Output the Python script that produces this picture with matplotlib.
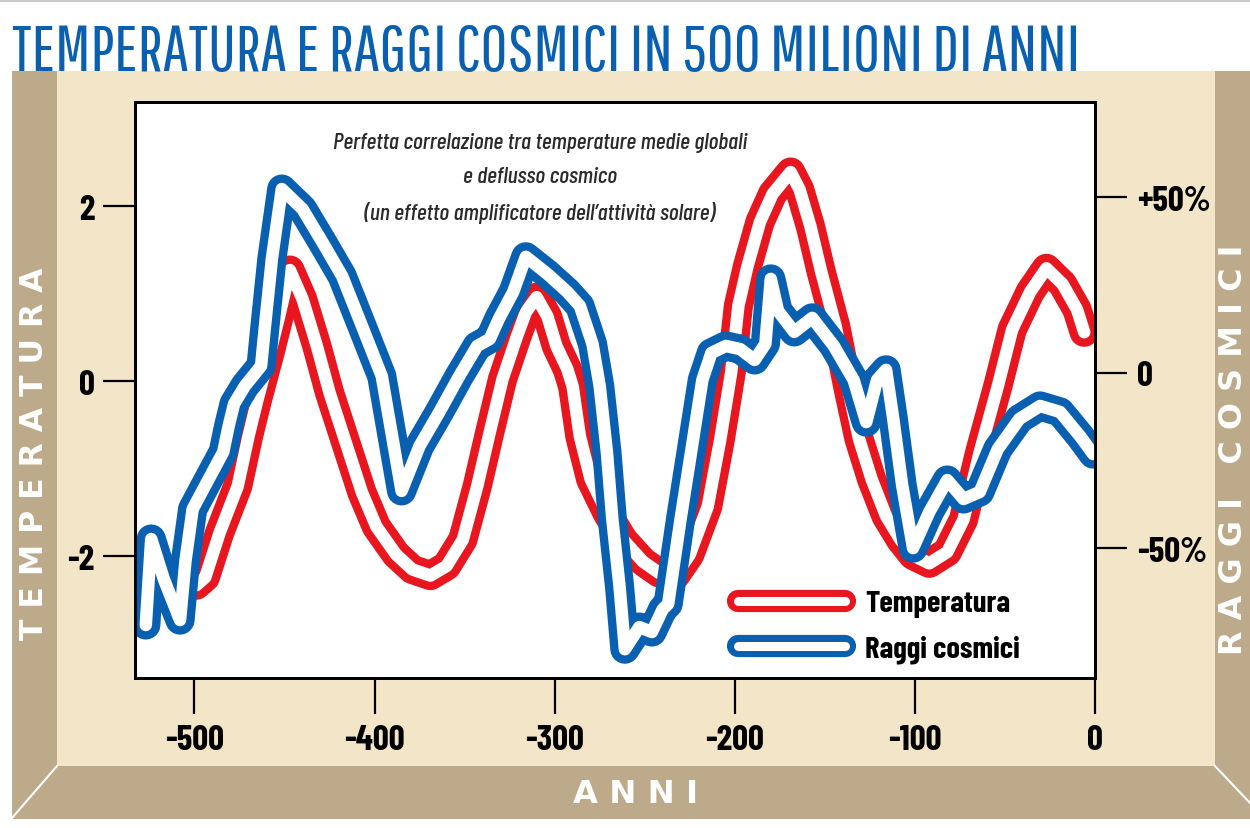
import matplotlib
matplotlib.use('Agg')
import matplotlib.pyplot as plt
from matplotlib.patches import Polygon
from matplotlib.lines import Line2D
from matplotlib.legend_handler import HandlerTuple
from matplotlib import font_manager

# --- data ---
temp_years = [-533, -519, -499, -494, -486, -476, -470, -465, -458, -453,
              -447, -440, -432, -425, -416, -407, -399, -388, -379, -369,
              -360, -351, -343, -336, -329, -321, -316, -310, -304, -299,
              -293, -290, -286, -280, -271, -262, -251, -242, -233, -225,
              -215, -208, -202, -198, -193, -186, -179, -169, -164, -158,
              -152, -144, -137, -131, -124, -116, -108, -101, -92, -82,
              -73, -64, -54, -46, -36, -27, -18, -10, -6]
temp_vals = [-2.23, -2.33, -2.33, -2.24, -1.73, -1.20, -0.63, -0.21, 0.33, 0.74,
             1.27, 0.94, 0.40, -0.13, -0.70, -1.27, -1.66, -1.98, -2.15, -2.22,
             -2.11, -1.81, -1.20, -0.58, 0.02, 0.51, 0.79, 0.96, 0.74, 0.40,
             0.14, -0.06, -0.63, -1.12, -1.50, -1.81, -2.06, -2.19, -2.22, -1.98,
             -1.43, -0.66, 0.10, 0.86, 1.31, 1.82, 2.14, 2.39, 2.19, 1.77,
             1.25, 0.63, -0.09, -0.66, -1.12, -1.54, -1.81, -1.99, -2.08, -1.95,
             -1.58, -0.81, -0.06, 0.59, 1.02, 1.29, 1.11, 0.82, 0.56]

cosmic_years = [-527, -524, -517, -508, -505, -501, -493, -484, -481, -478,
                -472, -463, -461, -457, -451.5, -440, -429, -418, -407, -396,
                -385, -375, -364, -353, -343, -336, -331, -323, -316, -304,
                -293, -286, -279, -275, -271, -268, -264, -261, -253, -246,
                -240, -237, -230, -224, -218, -213, -205, -197, -189, -183,
                -180, -176, -167, -157, -145, -134, -127, -121, -116, -112,
                -107, -101, -92, -82, -73, -64, -54, -42, -30.5, -19.4,
                -8.3, -1]
cosmic_vals = [-71.8, -47.3, -58.7, -70.4, -53.6, -38.8, -31.1, -22.5, -15.1, -8.8,
               -3.7, 2.0, 12.5, 32.5, 52.4, 46.7, 37.3, 27.6, 13.4, -0.9,
               -33.6, -20.8, -11.1, -0.9, 7.7, 9.7, 15.4, 23.1, 33.1, 28.2,
               23.1, 19.1, 8.3, -3.7, -22.5, -41.6, -60.7, -78.7, -72.4, -73.8,
               -67.3, -65.8, -41.3, -21.7, -2.0, 5.7, 7.7, 6.8, 3.7, 8.3,
               26.8, 17.7, 11.7, 15.7, 7.7, -2.0, -14.0, -2.0, 0.9, -13.1,
               -32.2, -49.9, -39.6, -30.5, -35.9, -33.9, -21.7, -13.1, -9.4, -11.1,
               -18.0, -23.1]

x_ticks = [-500, -400, -300, -200, -100, 0]
x_labels = ['-500', '-400', '-300', '-200', '-100', '0']
t_ticks = [2, 0, -2]
t_labels = ['2', '0', '-2']
c_ticks = [50, 0, -50]
c_labels = ['+50%', '0', '-50%']
legend_labels = ['Temperatura', 'Raggi cosmici']

title = 'TEMPERATURA E RAGGI COSMICI IN 500 MILIONI DI ANNI'
subtitle = ['Perfetta correlazione tra temperature medie globali',
            'e deflusso cosmico',
            '(un effetto amplificatore dell\u2019attivit\u00e0 solare)']

RED = '#e8161e'
BLUE = '#0a60b0'
BEIGE = '#f3e5c8'
TAN = '#bcaa8a'

names = {f.name for f in font_manager.fontManager.ttflist}


def pick(cands):
    for c in cands:
        if c in names:
            return c
    return 'DejaVu Sans'


COND = pick(['Barlow Condensed', 'Roboto Condensed', 'Liberation Sans Narrow', 'DejaVu Sans'])
TITLE_FONT = pick(['Pathway Gothic One', 'Antonio', 'Oswald', 'Barlow Condensed', 'DejaVu Sans'])
plt.rcParams['font.family'] = [COND, 'DejaVu Sans']

W, H = 1250, 829
fig = plt.figure(figsize=(W / 100, H / 100), dpi=100, facecolor='white')
renderer = fig.canvas.get_renderer()


def px(x, y):
    return (x / W, 1 - y / H)


def size_for(s, target, **kw):
    # font size that makes the string `target` pixels wide
    t = fig.text(0, 0, s, fontsize=20, **kw)
    w = t.get_window_extent(renderer).width
    t.remove()
    return 20 * target / w


# beige frame with tan bevelled borders
frame = [
    ([(12, 72), (1250, 72), (1250, 820), (12, 820)], BEIGE),
    ([(12, 72), (57, 72), (57, 767), (12, 820)], TAN),
    ([(1215, 72), (1250, 72), (1250, 805), (1215, 767)], TAN),
    ([(57, 767), (1215, 767), (1250, 805), (1250, 820), (12, 820)], TAN),
]
for pts, col in frame:
    fig.patches.append(Polygon([px(*p) for p in pts], closed=True, facecolor=col,
                               edgecolor='none', transform=fig.transFigure, zorder=-5))
for a, b in [((57, 767), (12, 819)), ((1215, 767), (1250, 804))]:
    fig.add_artist(Line2D([px(*a)[0], px(*b)[0]], [px(*a)[1], px(*b)[1]],
                          color='white', lw=1.5, transform=fig.transFigure, zorder=-4))
fig.add_artist(Line2D([0, 1], [1 - 1 / H] * 2, color='#c8c8c8', lw=2,
                      transform=fig.transFigure))

ax = fig.add_axes([135 / W, 1 - 679 / H, 960 / W, 576 / H])
ax.set_facecolor('white')
ax2 = ax.twinx()

ax.plot(temp_years, temp_vals, color=RED, lw=21, solid_capstyle='round', solid_joinstyle='round')
ax.plot(temp_years, temp_vals, color='white', lw=9, solid_capstyle='round', solid_joinstyle='round')
ax2.plot(cosmic_years, cosmic_vals, color=BLUE, lw=21, solid_capstyle='round', solid_joinstyle='round')
ax2.plot(cosmic_years, cosmic_vals, color='white', lw=9, solid_capstyle='round', solid_joinstyle='round')

ax.set_xlim(-533, 0)
ax.set_ylim(-3.39, 3.19)
ax2.set_ylim(-86.9, 77.2)

tick_size = size_for('-500', 59, weight='bold', family=[COND, 'DejaVu Sans'])
ax.set_xticks(x_ticks)
ax.set_xticklabels(x_labels, fontweight='bold')
ax.set_yticks(t_ticks)
ax.set_yticklabels(t_labels, fontweight='bold')
ax2.set_yticks(c_ticks)
ax2.set_yticklabels(c_labels, fontweight='bold')

ax.tick_params(axis='x', length=26, width=1.6, pad=7, labelsize=tick_size, color='black')
ax.tick_params(axis='y', length=23, width=1.6, pad=6, labelsize=tick_size, color='black')
ax2.tick_params(axis='y', length=23, width=1.6, pad=7, labelsize=tick_size, color='black')
for a in (ax, ax2):
    for s in a.spines.values():
        s.set_linewidth(2)
        s.set_color('black')

# legend
leg_size = size_for(legend_labels[0], 145, weight='bold', family=[COND, 'DejaVu Sans'])
em = leg_size * 100 / 72
h_t = (Line2D([], [], color=RED, lw=16, solid_capstyle='round'),
       Line2D([], [], color='white', lw=6.5, solid_capstyle='round'))
h_c = (Line2D([], [], color=BLUE, lw=16, solid_capstyle='round'),
       Line2D([], [], color='white', lw=6.5, solid_capstyle='round'))
ax2.legend([h_t, h_c], legend_labels,
           handler_map={tuple: HandlerTuple(ndivide=1, pad=0)},
           loc='upper left', bbox_to_anchor=((738 - 135) / 960, 1 - (591 - 103) / 576),
           frameon=False, borderpad=0, borderaxespad=0,
           handlelength=107 / em, handletextpad=20 / em, labelspacing=0.55,
           prop={'weight': 'bold', 'size': leg_size})

# texts
title_size = size_for(title, 1068, family=[TITLE_FONT, 'DejaVu Sans'])
fig.text(*px(12, 71), title, ha='left', va='baseline', fontsize=title_size,
         color=BLUE, family=[TITLE_FONT, 'DejaVu Sans'])

sub_size = size_for(subtitle[0], 414, style='italic', weight='medium', family=[COND, 'DejaVu Sans'])
for line, yy in zip(subtitle, [143, 177, 213]):
    fig.text(*px(540, yy), line, ha='center', va='center', style='italic', weight='medium',
             fontsize=sub_size, color='#2b2b2b')

lab = dict(color='white', fontweight='bold', ha='center', va='center', family='DejaVu Sans')
for s, target, (x0, y0), rot in [('T E M P E R A T U R A', 372, (35, 454), 90),
                                 ('R A G G I   C O S M I C I', 409, (1234, 450), 90),
                                 ('A N N I', 124, (636, 795), 0)]:
    fs = size_for(s, target, weight='bold', family='DejaVu Sans')
    fig.text(*px(x0, y0), s, rotation=rot, fontsize=fs, **lab)

fig.savefig('out.png', dpi=100, facecolor='white')
